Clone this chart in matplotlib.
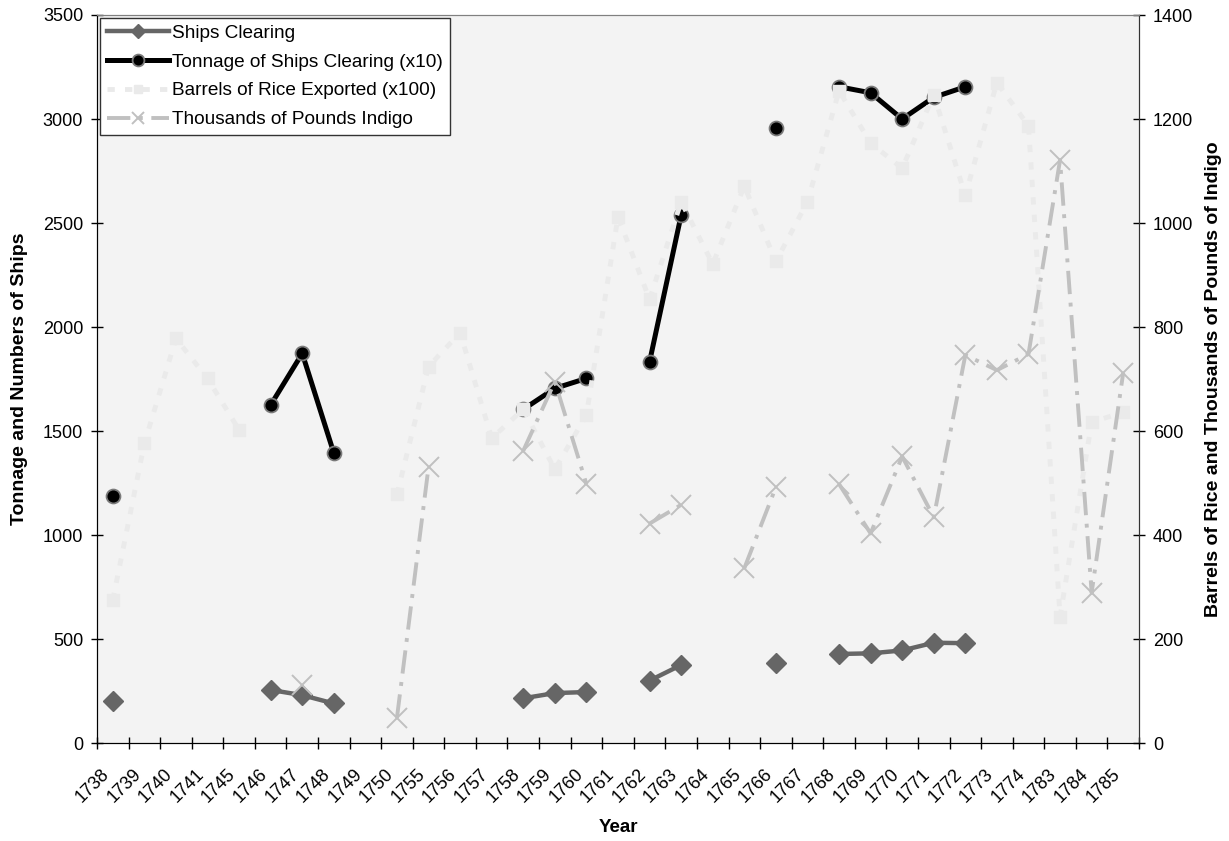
import numpy as np
import matplotlib
matplotlib.use('Agg')
import matplotlib.pyplot as plt
from matplotlib.lines import Line2D

nan = np.nan
years = ['1738', '1739', '1740', '1741', '1745', '1746', '1747', '1748', '1749', '1750',
         '1755', '1756', '1757', '1758', '1759', '1760', '1761', '1762', '1763', '1764',
         '1765', '1766', '1767', '1768', '1769', '1770', '1771', '1772', '1773', '1774',
         '1783', '1784', '1785']

ships_clearing = [200, nan, nan, nan, nan, 255, 230, 190, nan, nan,
                  nan, nan, nan, 215, 240, 245, nan, 300, 375, nan,
                  nan, 385, nan, 428, 431, 445, 482, 480, nan, nan,
                  nan, nan, nan]

tonnage_x10 = [1188, nan, nan, nan, nan, 1625, 1873, 1394, nan, nan,
               nan, nan, nan, 1604, 1705, 1753, nan, 1833, 2538, nan,
               nan, 2958, nan, 3155, 3126, 3000, 3104, 3155, nan, nan,
               nan, nan, nan]

rice_x100 = [275, 576, 778, 701, 602, nan, nan, nan, nan, 478,
             724, 789, 586, 642, 526, 631, 1012, 853, 1041, 921,
             1071, 926, 1041, 1254, 1154, 1105, 1247, 1053, 1270, 1187,
             243, 617, 636]

indigo_thousand_lbs = [nan, nan, nan, nan, nan, nan, 112, nan, nan, 49,
                       531, nan, nan, 562, 695, 498, nan, 422, 458, nan,
                       336, 492, nan, 498, 403, 551, 434, 746, 717, 748,
                       1121, 289, 712]

labels = ['Ships Clearing', 'Tonnage of Ships Clearing (x10)',
          'Barrels of Rice Exported (x100)', 'Thousands of Pounds Indigo']

plt.rcParams['font.family'] = ['Liberation Sans', 'DejaVu Sans']

W, H = 1229, 841
fig = plt.figure(figsize=(W / 100, H / 100), dpi=100)
ax = fig.add_axes([97 / W, 1 - 743 / H, (1139 - 97) / W, (743 - 15) / H])
ax.set_facecolor('#f3f3f3')

style_ships = dict(color='#666666', lw=3.2, marker='D', mfc='#666666', mec='#666666')
style_ton = dict(color='black', lw=3.6, marker='o', mfc='black', mec='#7a7a7a', mew=1.3)
style_rice = dict(color='#eaeaea', lw=3.5, dashes=(1.5, 2.1), dash_capstyle='butt',
                  marker='s', mfc='#eaeaea', mec='#eaeaea')
style_ind = dict(color='#c0c0c0', lw=2.8, dashes=(6, 2.2, 1, 2.2), dash_capstyle='butt',
                 marker='x', mew=1.4, mec='#c0c0c0')

x = np.arange(len(years))
ax.plot(x, ships_clearing, ms=10, zorder=3, **style_ships)
ax.plot(x, tonnage_x10, ms=10, zorder=4, **style_ton)

ax.set_xlim(-0.5, len(years) - 0.5)
ax.set_ylim(0, 3500)
ax.set_yticks(np.arange(0, 3501, 500))
ax.set_xticks(x)
ax.set_xticklabels(years, rotation=45, ha='right', va='bottom', rotation_mode='anchor')
ax.set_xticks(np.arange(len(years) + 1) - 0.5, minor=True)
ax.tick_params(axis='x', which='major', length=0, pad=25, labelsize=13)
ax.tick_params(axis='x', which='minor', length=9, width=1, direction='inout')
ax.tick_params(axis='y', length=9, width=1, direction='inout', labelsize=13, pad=5.5)

ax2 = ax.twinx()
ax2.plot(x, rice_x100, ms=8, zorder=3, **style_rice)
ax2.plot(x, indigo_thousand_lbs, ms=14, zorder=4, **style_ind)
ax2.set_ylim(0, 1400)
ax2.set_yticks(np.arange(0, 1401, 200))
ax2.tick_params(axis='y', length=9, width=1, direction='inout', labelsize=13, pad=5.5)

for a in (ax, ax2):
    a.spines['top'].set_color('#808080')
    a.spines['left'].set_color('black')
    a.spines['bottom'].set_color('black')
    a.spines['right'].set_color('#333333')

proxies = [Line2D([], [], ms=7, **style_ships),
           Line2D([], [], ms=8.5, **style_ton),
           Line2D([], [], ms=6, **style_rice),
           Line2D([], [], ms=9, **style_ind)]
leg = ax2.legend(handles=proxies, labels=labels, loc='upper left',
                 bbox_to_anchor=(100 / W, 1 - 18 / H), bbox_transform=fig.transFigure,
                 borderaxespad=0, fontsize=13.7, handlelength=3.3, handletextpad=0.15,
                 labelspacing=0.6, borderpad=0.35, numpoints=1, fancybox=False,
                 framealpha=1, edgecolor='#333333')
leg.get_frame().set_linewidth(1)

fig.text(20 / W, 1 - 379 / H, 'Tonnage and Numbers of Ships', rotation=90,
         ha='center', va='center', fontsize=14, fontweight='bold')
fig.text(1213.5 / W, 1 - 379 / H, 'Barrels of Rice and Thousands of Pounds of Indigo',
         rotation=90, ha='center', va='center', fontsize=14, fontweight='bold')
fig.text(618 / W, 1 - 827 / H, 'Year', ha='center', va='center', fontsize=13.5,
         fontweight='bold')

fig.savefig('out.png', dpi=100)
